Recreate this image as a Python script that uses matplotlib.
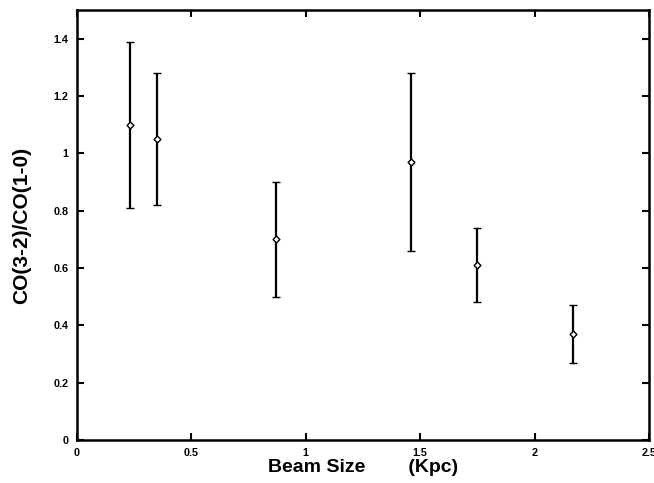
import matplotlib.pyplot as plt

# datos
beam_size = [0.23, 0.35, 0.87, 1.46, 1.75, 2.17]
ratio = [1.10, 1.05, 0.70, 0.97, 0.61, 0.37]
ratio_low = [0.81, 0.82, 0.50, 0.66, 0.48, 0.27]
ratio_high = [1.39, 1.28, 0.90, 1.28, 0.74, 0.47]

xticks = [0, 0.5, 1, 1.5, 2, 2.5]
xtick_labels = ['0', '0.5', '1', '1.5', '2', '2.5']
yticks = [0, 0.2, 0.4, 0.6, 0.8, 1.0, 1.2, 1.4]
ytick_labels = ['0', '0.2', '0.4', '0.6', '0.8', '1', '1.2', '1.4']

plt.rcParams['font.family'] = ['Liberation Sans', 'DejaVu Sans']
plt.rcParams['font.weight'] = 'bold'

fig = plt.figure(figsize=(6.54, 4.83), dpi=100)
ax = fig.add_axes([0.1177, 0.089, 0.8745, 0.890])

# barras de error
err_low = [r - lo for r, lo in zip(ratio, ratio_low)]
err_high = [hi - r for r, hi in zip(ratio, ratio_high)]
ax.errorbar(beam_size, ratio, yerr=[err_low, err_high], fmt='D', color='black',
            markerfacecolor='white', markeredgecolor='black', markersize=3.5,
            markeredgewidth=1.0, elinewidth=1.6, capsize=2.8, capthick=1.6)

# ejes
ax.set_xlim(0, 2.5)
ax.set_ylim(0, 1.5)
ax.set_xticks(xticks)
ax.set_xticklabels(xtick_labels)
ax.set_yticks(yticks)
ax.set_yticklabels(ytick_labels)
ax.tick_params(direction='in', top=True, right=True, length=5, width=1.5,
               labelsize=7.8, pad=6)
for s in ax.spines.values():
    s.set_linewidth(1.8)

ax.set_xlabel('Beam Size        (Kpc)', fontsize=14, fontweight='bold', labelpad=0.5)
ax.set_ylabel('CO(3-2)/CO(1-0)', fontsize=15, fontweight='bold', labelpad=16)

plt.savefig('out.png', dpi=100)
plt.close()
